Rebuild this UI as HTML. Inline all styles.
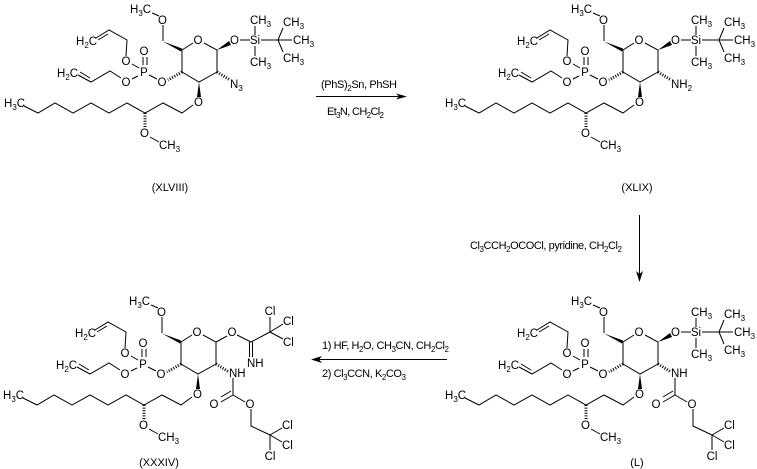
<!DOCTYPE html>
<html><head><meta charset="utf-8"><style>
html,body{margin:0;padding:0;background:#fff}
svg{display:block}
text{font-family:"Liberation Sans",Arial,sans-serif;font-size:11.5px;fill:#000}
.m{text-anchor:middle}
.s{font-size:8px}
.r{font-size:11px}
line,polyline,path.l{stroke:#000;stroke-width:1;fill:none}
</style></head><body>
<svg width="757" height="469" viewBox="0 0 757 469" xmlns="http://www.w3.org/2000/svg">
<defs>
<g id="core">
<polyline points="193,43 182,50 182,72 199,82 217,72 217,50 204,43"/>
<polygon points="163,41.5 182,48.5 181,51.5" fill="#000"/>
<polyline points="163,41 163,25"/>
<line x1="159" y1="16" x2="152" y2="13"/>
<line x1="143" y1="65" x2="143" y2="57"/><line x1="147" y1="65" x2="147" y2="57"/>
<line x1="157" y1="79" x2="149" y2="75"/>
<line x1="139" y1="68" x2="132" y2="64"/>
<line x1="138" y1="76" x2="132" y2="79"/>
<polyline points="126,56 127,40 109,30 96,38"/>
<line x1="108" y1="34" x2="98" y2="40"/>
<polyline points="121,78 110,71 91,82 78,75"/>
<line x1="90" y1="78" x2="80" y2="72"/>
<path d="M182,72 L168,80" stroke="#000" stroke-width="3" stroke-dasharray="1 1.6" fill="none"/>
<polygon points="199,82 197,97 201,97" fill="#000"/>
<polyline points="193,105 182,113 163,103 145,113 127,103 109,113 91,103 73,113 55,103 38,113 24,106"/>
<path d="M145,113 L145,128" stroke="#000" stroke-width="3" stroke-dasharray="1 1.6" fill="none"/>
<line x1="150" y1="137" x2="159" y2="142"/>
</g>
<g id="tbs">
<polygon points="217,50 229,41 231,45" fill="#000"/>
<line x1="240" y1="40" x2="250" y2="40"/>
<line x1="255" y1="35" x2="255" y2="26"/>
<line x1="255" y1="46" x2="255" y2="56"/>
<line x1="261" y1="40" x2="292" y2="40"/>
<line x1="278" y1="40" x2="283" y2="28"/>
<line x1="278" y1="40" x2="283" y2="52"/>
</g>
<g id="carb">
<path d="M217,72 L230,80" stroke="#000" stroke-width="3" stroke-dasharray="1 1.6" fill="none"/>
<line x1="234" y1="86" x2="234" y2="103"/>
<line x1="234" y1="103" x2="222" y2="110"/><line x1="232" y1="99" x2="222" y2="105"/>
<line x1="234" y1="103" x2="246" y2="110"/>
<polyline points="252,117 252,134 271,143"/>
<line x1="271" y1="143" x2="283" y2="136"/>
<line x1="271" y1="143" x2="283" y2="150"/>
<line x1="271" y1="143" x2="271" y2="158"/>
</g>
</defs>

<!-- XLVIII -->
<g>
<use href="#core"/><use href="#tbs"/>
<path d="M217,72 L230,80" stroke="#000" stroke-width="3" stroke-dasharray="1 1.6" fill="none"/>
<text x="130" y="13">H<tspan class="s" dy="3">3</tspan><tspan dy="-3">C</tspan></text>
<text class="m" x="162.500" y="24">O</text><text class="m" x="198" y="44">O</text>
<text class="m" x="234.500" y="44">O</text><text class="m" x="255" y="44">Si</text>
<text x="250" y="24">CH<tspan class="s" dy="3">3</tspan></text>
<text x="250" y="66">CH<tspan class="s" dy="3">3</tspan></text>
<text x="283" y="26">CH<tspan class="s" dy="3">3</tspan></text>
<text x="293" y="44">CH<tspan class="s" dy="3">3</tspan></text>
<text x="283" y="62">CH<tspan class="s" dy="3">3</tspan></text>
<text x="230" y="88">N<tspan class="s" dy="3">3</tspan></text>
<text class="m" x="162" y="86">O</text><text class="m" x="144" y="76">P</text><text class="m" x="144" y="55">O</text>
<text class="m" x="126" y="65">O</text><text class="m" x="126" y="86">O</text>
<text x="76" y="45">H<tspan class="s" dy="3">2</tspan><tspan dy="-3">C</tspan></text>
<text x="57" y="77">H<tspan class="s" dy="3">2</tspan><tspan dy="-3">C</tspan></text>
<text x="4" y="107">H<tspan class="s" dy="3">3</tspan><tspan dy="-3">C</tspan></text>
<text class="m" x="198.500" y="106">O</text><text class="m" x="144.500" y="137">O</text>
<text x="159" y="149">CH<tspan class="s" dy="3">3</tspan></text>
<text class="m r" x="170" y="191">(XLVIII)</text>
</g>

<!-- XLIX -->
<g transform="translate(441,0)">
<use href="#core"/><use href="#tbs"/>
<path d="M217,72 L230,80" stroke="#000" stroke-width="3" stroke-dasharray="1 1.6" fill="none"/>
<text x="130" y="13">H<tspan class="s" dy="3">3</tspan><tspan dy="-3">C</tspan></text>
<text class="m" x="162.500" y="24">O</text><text class="m" x="198" y="44">O</text>
<text class="m" x="234.500" y="44">O</text><text class="m" x="255" y="44">Si</text>
<text x="250" y="24">CH<tspan class="s" dy="3">3</tspan></text>
<text x="250" y="66">CH<tspan class="s" dy="3">3</tspan></text>
<text x="283" y="26">CH<tspan class="s" dy="3">3</tspan></text>
<text x="293" y="44">CH<tspan class="s" dy="3">3</tspan></text>
<text x="283" y="62">CH<tspan class="s" dy="3">3</tspan></text>
<text x="230" y="88">NH<tspan class="s" dy="3">2</tspan></text>
<text class="m" x="162" y="86">O</text><text class="m" x="144" y="76">P</text><text class="m" x="144" y="55">O</text>
<text class="m" x="126" y="65">O</text><text class="m" x="126" y="86">O</text>
<text x="76" y="45">H<tspan class="s" dy="3">2</tspan><tspan dy="-3">C</tspan></text>
<text x="57" y="77">H<tspan class="s" dy="3">2</tspan><tspan dy="-3">C</tspan></text>
<text x="4" y="107">H<tspan class="s" dy="3">3</tspan><tspan dy="-3">C</tspan></text>
<text class="m" x="198.500" y="106">O</text><text class="m" x="144.500" y="137">O</text>
<text x="159" y="149">CH<tspan class="s" dy="3">3</tspan></text>
<text class="m r" x="196" y="191">(XLIX)</text>
</g>

<!-- L -->
<g transform="translate(441,292)">
<use href="#core"/><use href="#tbs"/><use href="#carb"/>
<text x="130" y="13">H<tspan class="s" dy="3">3</tspan><tspan dy="-3">C</tspan></text>
<text class="m" x="162.500" y="24">O</text><text class="m" x="198" y="44">O</text>
<text class="m" x="234.500" y="44">O</text><text class="m" x="255" y="44">Si</text>
<text x="250" y="24">CH<tspan class="s" dy="3">3</tspan></text>
<text x="250" y="66">CH<tspan class="s" dy="3">3</tspan></text>
<text x="283" y="26">CH<tspan class="s" dy="3">3</tspan></text>
<text x="293" y="44">CH<tspan class="s" dy="3">3</tspan></text>
<text x="283" y="62">CH<tspan class="s" dy="3">3</tspan></text>
<text x="230" y="85">NH</text>
<text class="m" x="215" y="116">O</text><text class="m" x="251" y="116">O</text>
<text x="283" y="137">Cl</text><text x="283" y="157">Cl</text><text class="m" x="271" y="168">Cl</text>
<text class="m" x="162" y="86">O</text><text class="m" x="144" y="76">P</text><text class="m" x="144" y="55">O</text>
<text class="m" x="126" y="65">O</text><text class="m" x="126" y="86">O</text>
<text x="76" y="45">H<tspan class="s" dy="3">2</tspan><tspan dy="-3">C</tspan></text>
<text x="57" y="77">H<tspan class="s" dy="3">2</tspan><tspan dy="-3">C</tspan></text>
<text x="4" y="107">H<tspan class="s" dy="3">3</tspan><tspan dy="-3">C</tspan></text>
<text class="m" x="198.500" y="106">O</text><text class="m" x="144.500" y="137">O</text>
<text x="159" y="149">CH<tspan class="s" dy="3">3</tspan></text>
<text class="m r" x="196" y="174">(L)</text>
</g>

<!-- XXXIV -->
<g transform="translate(-1,292)">
<use href="#core"/><use href="#carb"/>
<line x1="217" y1="50" x2="228" y2="44"/>
<line x1="238" y1="43" x2="252" y2="50"/>
<line x1="250.500" y1="50" x2="250.500" y2="65"/><line x1="253.500" y1="50" x2="253.500" y2="65"/>
<line x1="252" y1="50" x2="271" y2="40"/>
<line x1="271" y1="40" x2="271" y2="25"/>
<line x1="271" y1="40" x2="284" y2="32"/>
<line x1="271" y1="40" x2="284" y2="47"/>
<text x="130" y="13">H<tspan class="s" dy="3">3</tspan><tspan dy="-3">C</tspan></text>
<text class="m" x="162.500" y="24">O</text><text class="m" x="198" y="44">O</text>
<text class="m" x="233" y="44">O</text>
<text class="m" x="271" y="23">Cl</text><text x="284" y="33">Cl</text><text x="284" y="54">Cl</text>
<text x="248" y="75">NH</text>
<text x="230" y="85">NH</text>
<text class="m" x="215" y="116">O</text><text class="m" x="251" y="116">O</text>
<text x="283" y="137">Cl</text><text x="283" y="157">Cl</text><text class="m" x="271" y="168">Cl</text>
<text class="m" x="162" y="86">O</text><text class="m" x="144" y="76">P</text><text class="m" x="144" y="55">O</text>
<text class="m" x="126" y="65">O</text><text class="m" x="126" y="86">O</text>
<text x="76" y="45">H<tspan class="s" dy="3">2</tspan><tspan dy="-3">C</tspan></text>
<text x="57" y="77">H<tspan class="s" dy="3">2</tspan><tspan dy="-3">C</tspan></text>
<text x="4" y="107">H<tspan class="s" dy="3">3</tspan><tspan dy="-3">C</tspan></text>
<text class="m" x="198.500" y="106">O</text><text class="m" x="144.500" y="137">O</text>
<text x="159" y="149">CH<tspan class="s" dy="3">3</tspan></text>
<text class="m r" x="160" y="174">(XXXIV)</text>
</g>

<!-- arrows -->
<line x1="316" y1="96.500" x2="400" y2="96.500"/>
<polygon points="407,96.500 396,93.500 399,96.500 396,99.500" fill="#000"/>
<line x1="639.500" y1="215" x2="639.500" y2="275"/>
<polygon points="639.500,282 636,271 639.500,274 643,271" fill="#000"/>
<line x1="447" y1="359.500" x2="318" y2="359.500"/>
<polygon points="311,359.500 322,356 319,359.500 322,363" fill="#000"/>

<text class="r" x="321" y="88" textLength="76">(PhS)<tspan class="s" dy="3">2</tspan><tspan dy="-3">Sn, PhSH</tspan></text>
<text class="r" x="327" y="115" textLength="57">Et<tspan class="s" dy="3">3</tspan><tspan dy="-3">N, CH</tspan><tspan class="s" dy="3">2</tspan><tspan dy="-3">Cl</tspan><tspan class="s" dy="3">2</tspan></text>
<text class="r" x="470" y="249" textLength="152">Cl<tspan class="s" dy="3">3</tspan><tspan dy="-3">CCH</tspan><tspan class="s" dy="3">2</tspan><tspan dy="-3">OCOCl, pyridine, CH</tspan><tspan class="s" dy="3">2</tspan><tspan dy="-3">Cl</tspan><tspan class="s" dy="3">2</tspan></text>
<text class="r" x="322" y="349" textLength="127">1) HF, H<tspan class="s" dy="3">2</tspan><tspan dy="-3">O, CH</tspan><tspan class="s" dy="3">3</tspan><tspan dy="-3">CN, CH</tspan><tspan class="s" dy="3">2</tspan><tspan dy="-3">Cl</tspan><tspan class="s" dy="3">2</tspan></text>
<text class="r" x="322" y="377" textLength="84">2) Cl<tspan class="s" dy="3">3</tspan><tspan dy="-3">CCN, K</tspan><tspan class="s" dy="3">2</tspan><tspan dy="-3">CO</tspan><tspan class="s" dy="3">3</tspan></text>
</svg>
</body></html>
